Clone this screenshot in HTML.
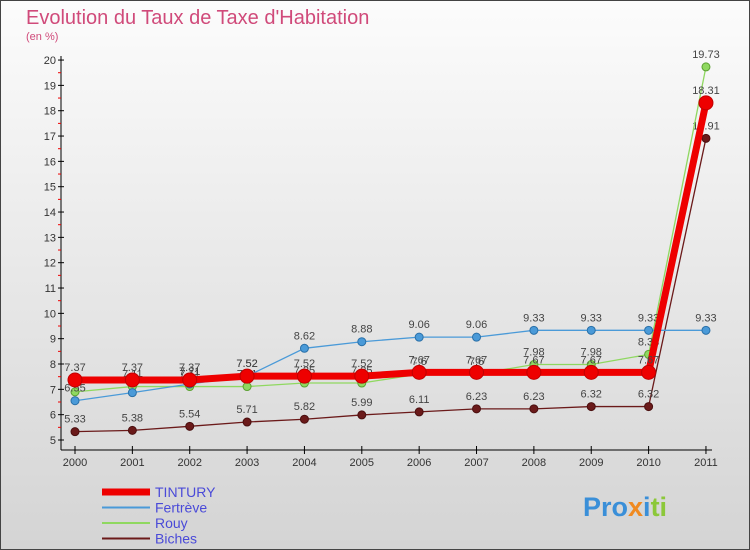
<!DOCTYPE html>
<html><head><meta charset="utf-8"><style>
body{margin:0;}
svg{display:block;font-family:"Liberation Sans",sans-serif;}
</style></head><body>
<svg id="c" width="750" height="550" xmlns="http://www.w3.org/2000/svg">
<defs><linearGradient id="bg" x1="0" y1="0" x2="0" y2="1"><stop offset="0" stop-color="#fcfcfc"/><stop offset="1" stop-color="#d4d4d4"/></linearGradient></defs>
<rect x="0.5" y="0.5" width="749" height="549" fill="url(#bg)" stroke="#444"/>
<text x="26" y="24" font-size="20" fill="#d04a7a">Evolution du Taux de Taxe d'Habitation</text>
<text x="26" y="40" font-size="11" fill="#d04a7a">(en %)</text>
<g id="axes"></g><g id="series"></g><g id="legend"></g>
<text x="583" y="516" font-size="27" font-weight="bold"><tspan fill="#3a8fd8">Pro</tspan><tspan fill="#f08a20">x</tspan><tspan fill="#3a8fd8">i</tspan><tspan fill="#8cc83a">ti</tspan></text>
</svg>
<script>
const years=["2000","2001","2002","2003","2004","2005","2006","2007","2008","2009","2010","2011"];
const yTicks=[5,6,7,8,9,10,11,12,13,14,15,16,17,18,19,20];
const tintury=[7.37,7.37,7.37,7.52,7.52,7.52,7.67,7.67,7.67,7.67,7.67,18.31];
const fertreve=[6.55,6.87,7.21,7.52,8.62,8.88,9.06,9.06,9.33,9.33,9.33,9.33];
const rouy=[6.9,7.11,7.11,7.11,7.25,7.25,7.6,7.6,7.98,7.98,8.38,19.73];
const biches=[5.33,5.38,5.54,5.71,5.82,5.99,6.11,6.23,6.23,6.32,6.32,16.91];
const NS="http://www.w3.org/2000/svg";
const X=i=>75+i*57.36, Y=v=>440-(v-5)*25.33;
function mk(p,t,a){const e=document.createElementNS(NS,t);for(const k in a)e.setAttribute(k,a[k]);p.appendChild(e);return e;}
const ax=document.getElementById('axes');
let l=mk(ax,'line',{x1:61,y1:56,x2:61,y2:450,stroke:'#000'});


l=mk(ax,'line',{x1:61,y1:450,x2:712,y2:450,stroke:'#000'});


yTicks.forEach(v=>{
 mk(ax,'line',{x1:58,y1:Y(v),x2:64,y2:Y(v),stroke:'#000'});
 if(v<20)mk(ax,'line',{x1:58,y1:Y(v+0.5),x2:61,y2:Y(v+0.5),stroke:'#e00'});
 const t=mk(ax,'text',{x:56,y:Y(v)+4,'font-size':11,'text-anchor':'end',fill:'#333'});t.textContent=v;
 
 
});
years.forEach((y,i)=>{
 mk(ax,'line',{x1:X(i),y1:446,x2:X(i),y2:454,stroke:'#000'});
 const t=mk(ax,'text',{x:X(i),y:466,'font-size':11,'text-anchor':'middle',fill:'#333'});t.textContent=y;
 
 
});
const sg=document.getElementById('series');
function series(name,vals,col,w,r,dark){
 const g=mk(sg,'g',{});
 
 
 const pl=mk(g,'polyline',{points:vals.map((v,i)=>X(i)+','+Y(v)).join(' '),fill:'none',stroke:col,'stroke-width':w});
 
 
 vals.forEach((v,i)=>{
  const c=mk(g,'circle',{cx:X(i),cy:Y(v),r:r,fill:col,stroke:dark,'stroke-width':1});
  
  
  const t=mk(g,'text',{x:X(i),y:Y(v)-9,'font-size':11,'text-anchor':'middle',fill:'#444'});t.textContent=v;
  
  
 });
}
series('biches',biches,'#6b1a1a',1.3,4,'#4a0f0f');
series('rouy',rouy,'#8fd860',1.3,4,'#5aa030');
series('fertreve',fertreve,'#4a9ad8',1.3,4,'#2a70a8');
series('tintury',tintury,'#ee0000',7,7,'#c00000');
const lg=document.getElementById('legend');
[['TINTURY','#ee0000',7],['Fertrève','#4a9ad8',2],['Rouy','#8fd860',2],['Biches','#6b1a1a',2]].forEach((d,i)=>{
 const y=492+i*15.5;
 const ln=mk(lg,'line',{x1:102,y1:y,x2:150,y2:y,stroke:d[1],'stroke-width':d[2]});
 
 
 const t=mk(lg,'text',{x:155,y:y+5,'font-size':14,fill:'#4a4ad8'});t.textContent=d[0];
 
 
});
</script>
</body></html>
